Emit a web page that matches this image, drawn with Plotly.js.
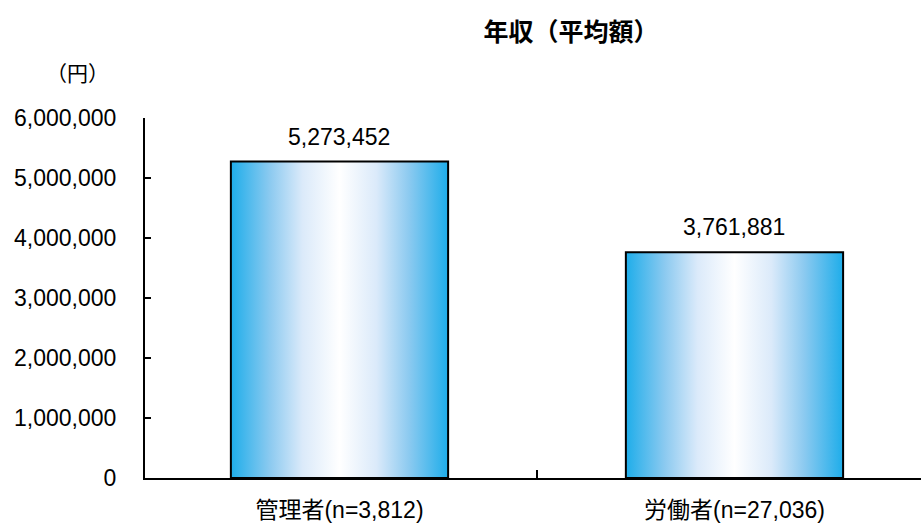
<!DOCTYPE html>
<html>
<head>
<meta charset="utf-8">
<script src="https://cdn.plot.ly/plotly-3.0.1.min.js"></script>
<style>html,body{margin:0;padding:0;background:#fff;}#chart{width:921px;height:524px;}</style>
</head>
<body>
<div id="chart"></div>
<script>
const categories = ["管理者(n=3,812)", "労働者(n=27,036)"];
const values = [5273452, 3761881];
const yTickVals = [0, 1000000, 2000000, 3000000, 4000000, 5000000, 6000000];

const FONT = '"Liberation Sans", Arial, "Noto Sans CJK JP", sans-serif';
const CJK = '"Noto Sans CJK JP", sans-serif';

const trace = {
  type: 'bar',
  x: categories,
  y: values,
  width: 0.55,
  marker: { color: '#22aeea', line: { color: '#000', width: 2 } },
  hoverinfo: 'none'
};

const annotations = values.map((v, i) => ({
  x: categories[i], y: v, xref: 'x', yref: 'y',
  text: v.toLocaleString('en-US'),
  showarrow: false, yanchor: 'bottom', yshift: 10,
  font: { family: FONT, size: 23, color: '#000' }
}));
annotations.push({
  xref: 'paper', yref: 'paper', x: -0.0876, y: 1.128, xanchor: 'center', yanchor: 'middle',
  text: '（円）', showarrow: false,
  font: { family: CJK, size: 21, color: '#000' }
});

const layout = {
  width: 921, height: 524,
  margin: { l: 145, r: 0, t: 118, b: 46 },
  paper_bgcolor: '#fff', plot_bgcolor: '#fff',
  showlegend: false,
  title: {
    text: '<b>年収（平均額）</b>',
    x: 0.62, xanchor: 'center', y: 0.938, yanchor: 'middle',
    font: { family: CJK, size: 25, color: '#000' }
  },
  xaxis: {
    type: 'category',
    range: [-0.4924, 1.4722],
    showline: true, linecolor: '#000', linewidth: 2,
    ticks: 'inside', tickson: 'boundaries', ticklen: 8, tickcolor: '#000', tickwidth: 1.5,
    showgrid: false, zeroline: false,
    ticklabelstandoff: 10,
    tickfont: { family: FONT, size: 23, color: '#000' }
  },
  yaxis: {
    range: [0, 6000000],
    tickvals: yTickVals,
    tickformat: ',d',
    showline: true, linecolor: '#000', linewidth: 2,
    ticks: 'inside', ticklen: 6, tickcolor: '#000', tickwidth: 1.5,
    showgrid: false, zeroline: false,
    ticklabelstandoff: 22,
    tickfont: { family: FONT, size: 23, color: '#000' }
  },
  annotations: annotations
};

Plotly.newPlot('chart', [trace], layout, { staticPlot: true, displayModeBar: false }).then(gd => {
  const svg = gd.querySelector('.main-svg');
  let defs = svg.querySelector('defs');
  const ns = 'http://www.w3.org/2000/svg';
  if (!defs) { defs = document.createElementNS(ns, 'defs'); svg.insertBefore(defs, svg.firstChild); }
  const g = document.createElementNS(ns, 'linearGradient');
  g.setAttribute('id', 'barGrad');
  g.setAttribute('x1', '0'); g.setAttribute('y1', '0'); g.setAttribute('x2', '1'); g.setAttribute('y2', '0');
  const stops = [[0, '#1eadea'], [0.18, '#8ccaf0'], [0.33, '#dbeafa'], [0.5, '#ffffff'], [0.67, '#dbeafa'], [0.82, '#8ccaf0'], [1, '#1eadea']];
  stops.forEach(([o, c]) => {
    const s = document.createElementNS(ns, 'stop');
    s.setAttribute('offset', o); s.setAttribute('stop-color', c);
    g.appendChild(s);
  });
  defs.appendChild(g);
  gd.querySelectorAll('.barlayer .point path').forEach(p => { p.style.fill = 'url(#barGrad)'; });
});
</script>
</body>
</html>
